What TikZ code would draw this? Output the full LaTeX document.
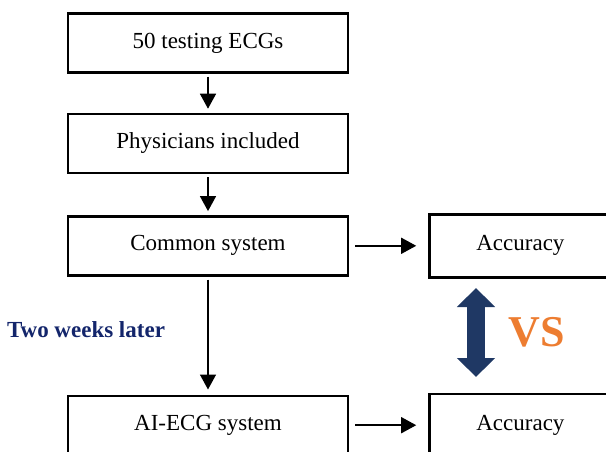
\documentclass[tikz,border=0pt]{standalone}
\usepackage{fontspec}
\setmainfont{Liberation Serif}
\usetikzlibrary{arrows.meta,positioning}
\definecolor{StudyNavy}{HTML}{1F3864}
\definecolor{StudyInk}{HTML}{13256B}
\definecolor{StudyOrange}{HTML}{ED7D31}
\tikzset{
  stage/.style={draw=black, line width=2.4pt, inner sep=0pt,
    minimum width=280pt, minimum height=59pt, font=\fontsize{23}{27}\selectfont},
  result/.style={stage, minimum width=182pt, minimum height=63pt},
  wire/.style={-{Triangle[width=16pt,length=15pt]}, line width=1.5pt,
    shorten >=4pt, shorten <=3pt},
  sidewire/.style={wire, shorten >=12pt, shorten <=6pt},
  compare/.style={{Triangle[width=37pt,length=19pt]}-{Triangle[width=37pt,length=19pt]},
    line width=18pt, draw=StudyNavy},
  note/.style={font=\fontsize{23}{27}\selectfont\bfseries, text=StudyInk},
  vsmark/.style={font=\fontsize{44}{48}\selectfont\bfseries, text=StudyOrange}
}

\begin{document}
\begin{tikzpicture}[x=1pt, y=1pt, node distance=40pt and 79pt]
  \useasboundingbox (0,0) rectangle (606,-452);
  \clip (0,0) rectangle (606,-452);
  \node[stage] (ecgs) at (208,-43) {50 testing ECGs};
  \node[stage, below=39pt of ecgs] (docs) {Physicians included};
  \node[stage, below=41pt of docs] (common) {Common system};
  \node[stage, below=118pt of common] (aiecg) {AI-ECG system};
  \node[result, right=of common] (acccommon) {Accuracy};
  \node[result, right=of aiecg] (accai) {Accuracy};
  \node[note] (later) at (86,-330) {Two weeks later};
  \node[vsmark] (vs) at (537,-332) {VS};
  \coordinate (cmptop) at (476,-288);
  \coordinate (cmpbot) at (476,-377);
  \draw[wire] (ecgs) -- (docs);
  \draw[wire] (docs) -- (common);
  \draw[wire, shorten >=5pt] (common) -- (aiecg);
  \draw[sidewire] (common) -- (acccommon);
  \draw[sidewire] (aiecg) -- (accai);
  \draw[compare] (cmptop) -- (cmpbot);
\end{tikzpicture}
\end{document}
